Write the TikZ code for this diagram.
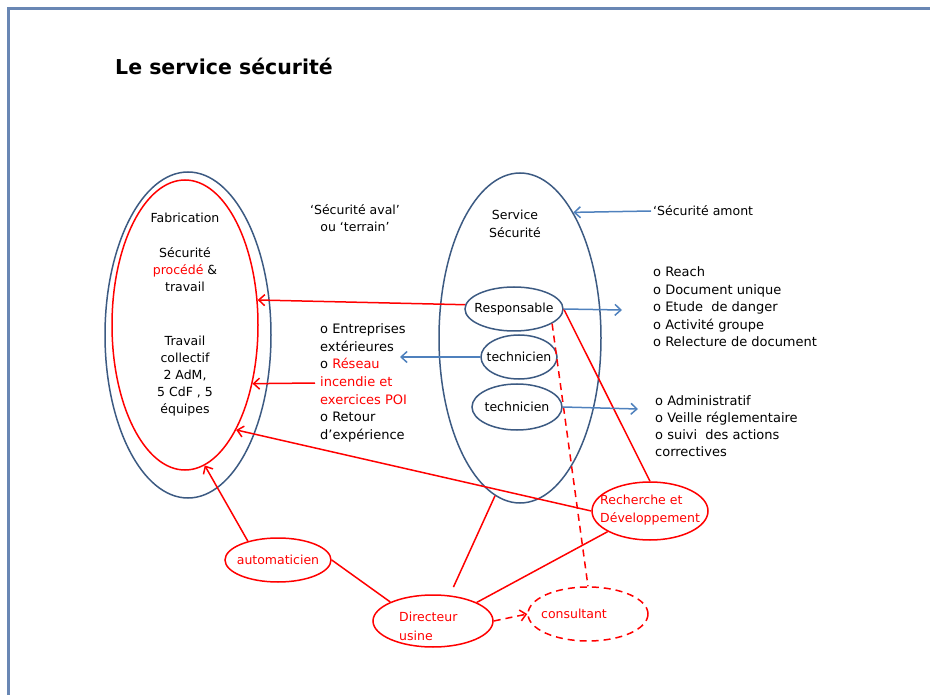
\documentclass[tikz,border=0pt]{standalone}
\usepackage{fontspec}
\setmainfont{DejaVu Sans}
\usetikzlibrary{shapes.geometric,arrows.meta}
\definecolor{frameblue}{RGB}{105,135,180}
\definecolor{ellblue}{RGB}{60,90,130}
\definecolor{arrblue}{RGB}{79,129,189}
\definecolor{myred}{RGB}{255,0,0}
\begin{document}
\begin{tikzpicture}[x=1pt,y=-1pt,
  font=\fontsize{12.5}{17.5}\selectfont,
  ell/.style={ellipse, draw, inner sep=0pt, line width=1.5pt},
  blueell/.style={ell, draw=ellblue},
  redell/.style={ell, draw=myred},
  txt/.style={inner sep=0pt, align=left},
  ctxt/.style={inner sep=0pt, align=center},
  tip/.style={-{Straight Barb[length=6pt,width=11pt]}},
  barrow/.style={draw=arrblue, line width=1.5pt, tip},
  rarrow/.style={draw=myred, line width=1.5pt, tip},
  rline/.style={draw=myred, line width=1.5pt},
  dash7/.style={dash pattern=on 7pt off 5pt}
]
\useasboundingbox (0,0) rectangle (930,695);
\draw[frameblue, line width=2.2pt] (8.5,695) -- (8.5,8.5) -- (930,8.5);

% title
\node[anchor=base west, inner sep=0pt, font=\bfseries\fontsize{20.5}{24}\selectfont] (title) at (115,75) {Le service sécurité};

% big ellipses
\node[blueell, minimum width=166pt, minimum height=326pt] (fabblue) at (188,335) {};
\node[redell, minimum width=146pt, minimum height=290pt] (fabred) at (185,325) {};
\node[blueell, minimum width=162pt, minimum height=330pt] (serv) at (520,338) {};

% Fabrication texts
\node[ctxt] (fabT) at (185,218) {Fabrication};
\node[ctxt, font=\fontsize{12.5}{17}\selectfont] (fabT2) at (185,270) {Sécurité\\\textcolor{myred}{procédé} \&\\travail};
\node[ctxt, font=\fontsize{12.5}{17}\selectfont] (fabT3) at (185,376) {Travail\\collectif\\2 AdM,\\5 CdF , 5\\équipes};

% Service securite
\node[ctxt, font=\fontsize{12.5}{18}\selectfont] (servT) at (515,224) {Service\\Sécurité};
\node[ctxt, font=\fontsize{12.5}{17}\selectfont] (aval) at (355,218) {`Sécurité aval'\\ou `terrain'};
\node[txt, anchor=west] (amontT) at (653,211) {`Sécurité amont};

% small ellipses
\node[blueell, minimum width=98pt, minimum height=44pt] (resp) at (514,309) {};
\node (respT) at (resp) {Responsable};
\node[blueell, minimum width=76pt, minimum height=44pt] (tech1) at (519,357) {};
\node (tech1T) at (tech1) {technicien};
\node[blueell, minimum width=90pt, minimum height=46pt] (tech2) at (517,407) {};
\node (tech2T) at (tech2) {technicien};

\node[redell, minimum width=116pt, minimum height=58pt] (rd) at (650,511) {};
\node[txt, anchor=west, text=myred] (rdT) at (600,510) {Recherche et\\Développement};
\node[redell, minimum width=106pt, minimum height=44pt] (auto) at (278,560) {};
\node[text=myred] (autoT) at (auto) {automaticien};
\node[redell, minimum width=120pt, minimum height=52pt] (dir) at (433,621) {};
\node[txt, anchor=west, text=myred, font=\fontsize{12.5}{19}\selectfont] (dirT) at (399,626) {Directeur\\usine};
\node[redell, dash7, minimum width=120pt, minimum height=54pt] (cons) at (588,614) {};
\node[text=myred] (consT) at (574,614) {consultant};

% lists
\node[txt, anchor=west, font=\fontsize{13}{17.5}\selectfont] (list1) at (653,307) {o Reach\\o Document unique\\o Etude~ de danger\\o Activité groupe\\o Relecture de document};
\node[txt, anchor=west, font=\fontsize{13}{17}\selectfont] (list2) at (655,426) {o Administratif\\o Veille réglementaire\\o suivi~ des actions\\correctives};
\node[txt, anchor=west, font=\fontsize{13}{17.7}\selectfont] (list3) at (320,383) {o Entreprises\\extérieures\\o \textcolor{myred}{Réseau}\\\textcolor{myred}{incendie et}\\\textcolor{myred}{exercices POI}\\o Retour\\d'expérience};

% free ends
\coordinate (reseau) at (315,383);
\coordinate (amont) at (651,211);
\coordinate (respout) at (622,310);
\coordinate (tech1out) at (400,357);
\coordinate (tech2out) at (638,409);

% red arrows into Fabrication
\draw[rarrow] (resp.175) -- (fabred.19);
\draw[rarrow] (reseau) -- (fabred.-41);
\draw[rarrow] (rd.west) -- (fabred.-64);
\draw[rarrow] (auto.148) -- (fabred.-82);

% red lines
\draw[rline] (resp.east) -- (rd.north);
\draw[rline, shorten >=9pt] (serv.-99) -- (dir.57);
\draw[rline] (auto.east) -- (dir.156);
\draw[rline] (dir.23) -- (rd.206);
\draw[rline, dash7] (resp.-21) -- (cons.north);
\draw[rarrow, dash7] (dir.east) -- (cons.west);

% blue arrows
\draw[barrow] (amont) -- (serv.67);
\draw[barrow] (resp.east) -- (respout);
\draw[barrow] (tech1.west) -- (tech1out);
\draw[barrow] (tech2.east) -- (tech2out);
\end{tikzpicture}
\end{document}
